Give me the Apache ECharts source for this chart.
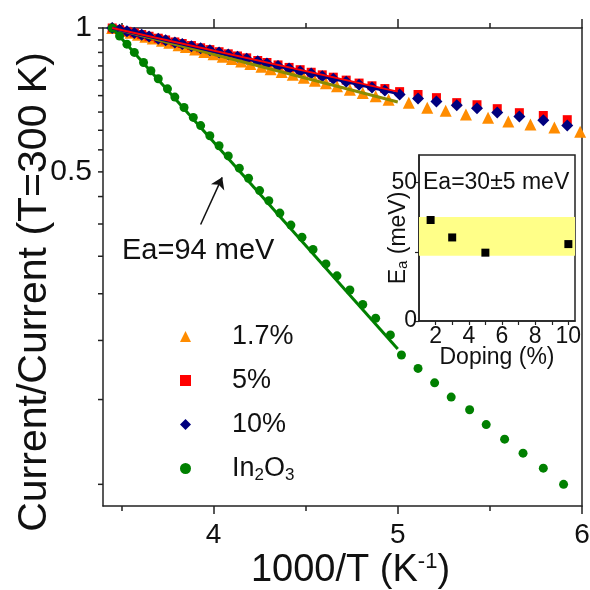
<!DOCTYPE html>
<html>
<head>
<meta charset="utf-8">
<script src="https://cdn.jsdelivr.net/npm/echarts@6/dist/echarts.min.js"></script>
<style>html,body{margin:0;padding:0;background:#fff}#c{width:590px;height:590px}</style>
</head>
<body>
<div id="c"></div>
<script>
// ---- main chart data: x = 1000/T (K^-1), y = Current/Current(T=300 K) ----
const x17 = [3.45,3.51,3.55,3.59,3.63,3.67,3.72,3.76,3.81,3.85,3.90,3.95,4.00,4.05,4.10,4.15,4.20,4.26,4.31,4.37,4.43,4.49,4.55,4.61,4.67,4.74,4.81,4.88,4.95,5.06,5.16,5.26,5.37,5.49,5.60,5.72,5.85,5.99];
const y17 = [1.000,0.986,0.977,0.968,0.959,0.951,0.940,0.931,0.920,0.912,0.902,0.891,0.881,0.871,0.861,0.851,0.841,0.830,0.820,0.809,0.798,0.787,0.776,0.766,0.755,0.743,0.731,0.720,0.708,0.698,0.681,0.671,0.659,0.649,0.637,0.628,0.619,0.607];
const x5 = [3.45,3.49,3.53,3.57,3.61,3.65,3.70,3.74,3.79,3.83,3.88,3.93,3.98,4.03,4.08,4.13,4.18,4.24,4.29,4.35,4.41,4.47,4.53,4.59,4.65,4.72,4.79,4.86,4.93,5.01,5.11,5.21,5.32,5.43,5.54,5.66,5.79,5.92];
const y5 = [1.000,0.992,0.984,0.977,0.969,0.961,0.952,0.944,0.935,0.928,0.919,0.909,0.901,0.892,0.883,0.874,0.866,0.855,0.847,0.837,0.827,0.818,0.808,0.798,0.789,0.778,0.767,0.757,0.747,0.736,0.726,0.715,0.698,0.691,0.678,0.665,0.656,0.643];
const x10 = [3.45,3.49,3.53,3.57,3.61,3.65,3.70,3.74,3.79,3.83,3.88,3.93,3.98,4.03,4.08,4.13,4.18,4.24,4.29,4.35,4.41,4.47,4.53,4.59,4.65,4.72,4.79,4.86,4.93,5.01,5.11,5.21,5.32,5.43,5.54,5.66,5.79,5.92];
const y10 = [1.000,0.992,0.984,0.976,0.968,0.960,0.950,0.943,0.933,0.926,0.916,0.907,0.898,0.889,0.880,0.871,0.862,0.852,0.843,0.833,0.823,0.812,0.803,0.793,0.783,0.772,0.761,0.751,0.740,0.726,0.712,0.702,0.689,0.679,0.666,0.653,0.641,0.625];
const xIn = [3.45,3.49,3.53,3.57,3.62,3.66,3.70,3.75,3.79,3.84,3.89,3.93,3.98,4.03,4.08,4.14,4.19,4.25,4.30,4.36,4.42,4.48,4.54,4.61,4.67,4.74,4.81,4.88,4.96,5.02,5.11,5.20,5.29,5.39,5.48,5.58,5.68,5.79,5.90];
const yIn = [1.000,0.962,0.925,0.889,0.847,0.814,0.783,0.746,0.717,0.682,0.650,0.625,0.595,0.567,0.540,0.509,0.485,0.457,0.435,0.410,0.387,0.365,0.344,0.321,0.303,0.283,0.264,0.247,0.228,0.207,0.194,0.181,0.169,0.159,0.148,0.138,0.129,0.120,0.111];

// linear fits (end points)
const fit17 = [[3.45,1.0],[5.0,0.700]];
const fit5  = [[3.45,1.0],[5.0,0.736]];
const fit10 = [[3.45,1.0],[5.0,0.729]];
const fitIn = [[3.45,1.0],[5.0,0.213]];

// annotation arrow (data coords)
const arrowFrom = [3.93,0.388];
const arrowTo = [4.047,0.487];

// axis range and ticks
const xMin = 3.4, xMax = 6;
const xMajor = [4,5,6];
const xMinor = [3.5,4.5,5.5];
const yTicks = [0.111,0.167,0.222,0.278,0.333,0.389,0.444,0.5,0.556,0.611,0.667,0.722,0.778,0.833,0.889,0.944,1];
const yLabels = [0.5,1];

// inset data
const doping = [1.7,3,5,10];
const eaValues = [36.5,30.2,24.7,27.8];
const eaBand = [23.6,37.6];
const insetXTicks = [2,3,4,5,6,7,8,9,10];
const insetXLabels = [2,4,6,8,10];
const insetYTicks = [0,25,50];
const insetYLabels = [0,50];

const FONT = 'Liberation Sans, Arial, sans-serif';
const zip = (xs, ys) => xs.map((x,i)=>[x, ys[i]]);

const chart = echarts.init(document.getElementById('c'), null, {renderer:'canvas'});
const axisLine = {show:true, lineStyle:{color:'#222', width:1.5}};
const baseX = {type:'value', min:xMin, max:xMax, gridIndex:0, splitLine:{show:false}};
const tk = (len, vals, w) => ({show:true, interval:0, length:len, lineStyle:{color:'#222', width:w||1.5}, customValues:vals});

const option = {
  animation:false,
  backgroundColor:'#fff',
  textStyle:{fontFamily:FONT},
  grid:[
    {left:103, top:28, right:8, bottom:84, containLabel:false, outerBoundsMode:'none'},
    {left:419, top:155, width:156, height:166, show:true, borderColor:'#222', borderWidth:1.5, outerBoundsMode:'none'}
  ],
  xAxis:[
    Object.assign({}, baseX, {position:'bottom', axisLine:axisLine,
      axisTick:tk(8, xMajor),
      axisLabel:{show:true, interval:0, customValues:xMajor, fontSize:28, color:'#111', margin:15, fontFamily:FONT},
      name:'{a|1000/T (K}{s|-1}{a|)}', nameLocation:'middle', nameGap:45, nameMoveOverlap:false,
      nameTextStyle:{padding:[0,0,0,16], rich:{a:{fontSize:38, color:'#111', fontFamily:FONT, lineHeight:40}, s:{fontSize:22, color:'#111', fontFamily:FONT, verticalAlign:'top', lineHeight:24}}}
    }),
    Object.assign({}, baseX, {position:'bottom', axisLine:{show:false},
      axisTick:tk(5, xMinor), axisLabel:{show:false}}),
    Object.assign({}, baseX, {position:'top', axisLine:axisLine,
      axisTick:tk(9, xMajor), axisLabel:{show:false}}),
    Object.assign({}, baseX, {position:'top', axisLine:{show:false},
      axisTick:tk(5, xMinor), axisLabel:{show:false}}),
    {type:'value', gridIndex:1, min:1, max:10.4, position:'bottom', splitLine:{show:false},
      axisLine:{show:true, lineStyle:{color:'#222', width:1.5}},
      axisTick:tk(4, insetXTicks, 1.2),
      axisLabel:{show:true, interval:0, customValues:insetXLabels, fontSize:23, color:'#111', margin:4, fontFamily:FONT},
      name:'Doping (%)', nameLocation:'middle', nameGap:25, nameMoveOverlap:false,
      nameTextStyle:{fontSize:23, color:'#111', fontFamily:FONT}}
  ],
  yAxis:[
    {type:'log', logBase:10, min:0.1, max:1, gridIndex:0, position:'left', splitLine:{show:false},
      axisLine:axisLine,
      axisTick:{show:false},
      axisLabel:{show:true, interval:0, customValues:yLabels, fontSize:30, color:'#111', margin:11, fontFamily:FONT,
        formatter:function(v){return Math.abs(v-1)<1e-6 ? '1' : String(v);}},
      name:'Current/Current (T=300 K)', nameLocation:'middle', nameGap:48, nameRotate:90, nameMoveOverlap:false,
      nameTextStyle:{fontSize:41, color:'#111', fontFamily:FONT, padding:[0,50,0,0]}},
    {type:'log', logBase:10, min:0.1, max:1, gridIndex:0, position:'right', splitLine:{show:false},
      axisLine:axisLine, axisTick:{show:false}, axisLabel:{show:false}},
    {type:'value', gridIndex:1, min:0, max:60, position:'left', splitLine:{show:false},
      axisLine:{show:true, lineStyle:{color:'#222', width:1.5}},
      axisTick:tk(4, insetYTicks, 1.2),
      axisLabel:{show:true, interval:0, customValues:insetYLabels, fontSize:23, color:'#111', margin:2, fontFamily:FONT},
      name:'E{s|a} (meV)', nameLocation:'middle', nameGap:9, nameRotate:90, nameMoveOverlap:false,
      nameTextStyle:{fontSize:23, color:'#111', fontFamily:FONT,
        rich:{s:{fontSize:15, color:'#111', fontFamily:FONT, verticalAlign:'bottom', lineHeight:14}}}}
  ],
  legend:{
    orient:'vertical', left:175, top:318, itemWidth:11, itemHeight:11, itemGap:17,
    data:[
      {name:'1.7%', icon:'triangle'},
      {name:'5%', icon:'rect'},
      {name:'10%', icon:'diamond'},
      {name:'In2O3', icon:'circle'}
    ],
    formatter:function(n){
      if(n==='In2O3') return '{sp| }{a|In}{s|2}{a|O}{s|3}';
      return '{sp| }{a|'+n+'}';
    },
    textStyle:{fontFamily:FONT, rich:{
      sp:{width:36, fontSize:10},
      a:{fontSize:27, color:'#111', fontFamily:FONT, lineHeight:30},
      s:{fontSize:17, color:'#111', fontFamily:FONT, verticalAlign:'bottom', lineHeight:14}
    }}
  },
  series:[
    // log-axis tick marks placed through the axis scale at the left edge
    {name:'yTickMarks', type:'scatter', xAxisIndex:0, yAxisIndex:0, symbol:'rect', symbolSize:[5,1.5],
      symbolOffset:[-2.5,0], clip:false, silent:true, itemStyle:{color:'#222', opacity:1},
      data:yTicks.map(v => [xMin, v]), z:1},
    {name:'1.7%', type:'scatter', xAxisIndex:0, yAxisIndex:0, symbol:'triangle', symbolSize:12,
      itemStyle:{color:'#ff8c00', opacity:1}, data:zip(x17,y17), z:2},
    {name:'5%', type:'scatter', xAxisIndex:0, yAxisIndex:0, symbol:'rect', symbolSize:9,
      itemStyle:{color:'#ff0000', opacity:1}, data:zip(x5,y5), z:3},
    {name:'10%', type:'scatter', xAxisIndex:0, yAxisIndex:0, symbol:'diamond', symbolSize:12,
      itemStyle:{color:'#00007f', opacity:1}, data:zip(x10,y10), z:4},
    {name:'In2O3', type:'scatter', xAxisIndex:0, yAxisIndex:0, symbol:'circle', symbolSize:9,
      itemStyle:{color:'#008000', opacity:1}, data:zip(xIn,yIn), z:4,
      markLine:{silent:true, symbol:['none','arrow'], symbolSize:11, label:{show:false},
        lineStyle:{color:'#111', width:1.5, type:'solid', opacity:1},
        data:[[{coord:arrowFrom},{coord:arrowTo}]]}},
    {name:'fit17', type:'line', xAxisIndex:0, yAxisIndex:0, data:fit17, symbol:'none',
      lineStyle:{color:'#8b8b00', width:3}, z:5},
    {name:'fit10', type:'line', xAxisIndex:0, yAxisIndex:0, data:fit10, symbol:'none',
      lineStyle:{color:'#00007f', width:3}, z:6},
    {name:'fit5', type:'line', xAxisIndex:0, yAxisIndex:0, data:fit5, symbol:'none',
      lineStyle:{color:'#ff0000', width:2}, z:7},
    {name:'fitIn', type:'line', xAxisIndex:0, yAxisIndex:0, data:fitIn, symbol:'none',
      lineStyle:{color:'#008000', width:3}, z:5},
    {name:'Ea', type:'scatter', xAxisIndex:4, yAxisIndex:2, symbol:'rect', symbolSize:8,
      itemStyle:{color:'#000', opacity:1}, data:zip(doping,eaValues), z:10,
      markArea:{silent:true, itemStyle:{color:'#ffff88', opacity:1},
        data:[[{yAxis:eaBand[0]},{yAxis:eaBand[1]}]]}}
  ],
  graphic:[
    {type:'text', left:122, top:236, z:20, style:{text:'Ea=94 meV', fontSize:29, fill:'#111', fontFamily:FONT}},
    {type:'text', left:423, top:171, z:20, style:{text:'Ea=30±5 meV', fontSize:23, fill:'#111', fontFamily:FONT}}
  ]
};
chart.setOption(option);
</script>
</body>
</html>
